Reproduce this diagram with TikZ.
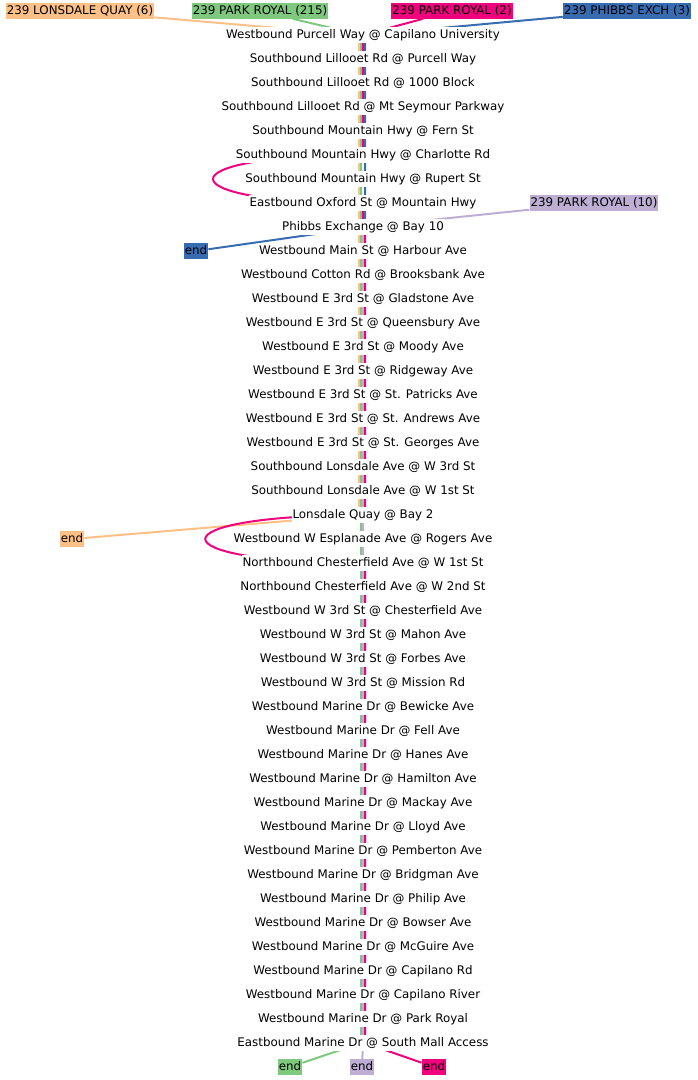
\documentclass[tikz,border=0pt]{standalone}
\usepackage{fontspec}
\setmainfont{DejaVu Sans}
\usetikzlibrary{backgrounds}

\definecolor{routeorange}{HTML}{FDC086}
\definecolor{routegreen}{HTML}{7FC97F}
\definecolor{routelavender}{HTML}{BEAED4}
\definecolor{routepink}{HTML}{F0027F}
\definecolor{routeblue}{HTML}{386CB0}

\begin{document}
\begin{tikzpicture}[x=0.75pt,y=-0.75pt,node distance=18pt,line join=round,
    stop node/.style={fill=white,inner xsep=0.75pt,inner ysep=1.2pt,text height=6.8pt,text depth=2.1pt,font=\fontsize{8.9}{10.7}\selectfont},
    route label/.style={stop node,fill=#1},
    route/.style={draw=#1,line width=1.5pt}]
            \useasboundingbox (0,0) rectangle (698,1080);

            \node[stop node] (1) at (363,35) {Westbound Purcell Way @ Capilano University};
            \node[stop node] (2) [below of=1] {Southbound Lillooet Rd @ Purcell Way};
            \node[stop node] (3) [below of=2] {Southbound Lillooet Rd @ 1000 Block};
            \node[stop node] (4) [below of=3] {Southbound Lillooet Rd @ Mt Seymour Parkway};
            \node[stop node] (5) [below of=4] {Southbound Mountain Hwy @ Fern St};
            \node[stop node] (6) [below of=5] {Southbound Mountain Hwy @ Charlotte Rd};
            \node[stop node] (7) [below of=6] {Southbound Mountain Hwy @ Rupert St};
            \node[stop node] (8) [below of=7] {Eastbound Oxford St @ Mountain Hwy};
            \node[stop node] (9) [below of=8] {Phibbs Exchange @ Bay 10};
            \node[stop node] (10) [below of=9] {Westbound Main St @ Harbour Ave};
            \node[stop node] (11) [below of=10] {Westbound Cotton Rd @ Brooksbank Ave};
            \node[stop node] (12) [below of=11] {Westbound E 3rd St @ Gladstone Ave};
            \node[stop node] (13) [below of=12] {Westbound E 3rd St @ Queensbury Ave};
            \node[stop node] (14) [below of=13] {Westbound E 3rd St @ Moody Ave};
            \node[stop node] (15) [below of=14] {Westbound E 3rd St @ Ridgeway Ave};
            \node[stop node] (16) [below of=15] {Westbound E 3rd St @ St. Patricks Ave};
            \node[stop node] (17) [below of=16] {Westbound E 3rd St @ St. Andrews Ave};
            \node[stop node] (18) [below of=17] {Westbound E 3rd St @ St. Georges Ave};
            \node[stop node] (19) [below of=18] {Southbound Lonsdale Ave @ W 3rd St};
            \node[stop node] (20) [below of=19] {Southbound Lonsdale Ave @ W 1st St};
            \node[stop node] (21) [below of=20] {Lonsdale Quay @ Bay 2};
            \node[stop node] (22) [below of=21] {Westbound W Esplanade Ave @ Rogers Ave};
            \node[stop node] (23) [below of=22] {Northbound Chesterfield Ave @ W 1st St};
            \node[stop node] (24) [below of=23] {Northbound Chesterfield Ave @ W 2nd St};
            \node[stop node] (25) [below of=24] {Westbound W 3rd St @ Chesterfield Ave};
            \node[stop node] (26) [below of=25] {Westbound W 3rd St @ Mahon Ave};
            \node[stop node] (27) [below of=26] {Westbound W 3rd St @ Forbes Ave};
            \node[stop node] (28) [below of=27] {Westbound W 3rd St @ Mission Rd};
            \node[stop node] (29) [below of=28] {Westbound Marine Dr @ Bewicke Ave};
            \node[stop node] (30) [below of=29] {Westbound Marine Dr @ Fell Ave};
            \node[stop node] (31) [below of=30] {Westbound Marine Dr @ Hanes Ave};
            \node[stop node] (32) [below of=31] {Westbound Marine Dr @ Hamilton Ave};
            \node[stop node] (33) [below of=32] {Westbound Marine Dr @ Mackay Ave};
            \node[stop node] (34) [below of=33] {Westbound Marine Dr @ Lloyd Ave};
            \node[stop node] (35) [below of=34] {Westbound Marine Dr @ Pemberton Ave};
            \node[stop node] (36) [below of=35] {Westbound Marine Dr @ Bridgman Ave};
            \node[stop node] (37) [below of=36] {Westbound Marine Dr @ Philip Ave};
            \node[stop node] (38) [below of=37] {Westbound Marine Dr @ Bowser Ave};
            \node[stop node] (39) [below of=38] {Westbound Marine Dr @ McGuire Ave};
            \node[stop node] (40) [below of=39] {Westbound Marine Dr @ Capilano Rd};
            \node[stop node] (41) [below of=40] {Westbound Marine Dr @ Capilano River};
            \node[stop node] (42) [below of=41] {Westbound Marine Dr @ Park Royal};
            \node[stop node] (43) [below of=42] {Eastbound Marine Dr @ South Mall Access};

            \node[route label=routeorange] (lq6) at (80,11) {239 LONSDALE QUAY (6)};
            \node[route label=routegreen] (pr215) at (260,11) {239 PARK ROYAL (215)};
            \node[route label=routepink] (pr2) at (452,11) {239 PARK ROYAL (2)};
            \node[route label=routeblue] (px3) at (627,11) {239 PHIBBS EXCH (3)};
            \node[route label=routelavender] (pr10) at (594,203) {239 PARK ROYAL (10)};

            \node[route label=routeblue] (end3) at (196,251) {end};
            \node[route label=routeorange] (end6) at (72,539) {end};
            \node[route label=routegreen] (end215) at (290,1067) {end};
            \node[route label=routelavender] (end10) at (362,1067) {end};
            \node[route label=routepink] (end2) at (434,1067) {end};

            \begin{pgfonlayer}{background}
                \path[route=routeorange] (lq6) -- ([xshift=-3pt]1.center) -- ([xshift=-3pt]21.center) -- (end6);
                \path[route=routegreen] (pr215) -- ([xshift=-1.5pt]1.center) -- ([xshift=-1.5pt]43.center) -- (end215);
                \path[route=routeblue] (px3) -- ([xshift=1.5pt]1.center) -- ([xshift=1.5pt]9.center) -- (end3);
                \path[route=routelavender] (pr10) -- (9.center) -- (43.center) -- (end10);
                \path[route=routepink] (pr2) -- (1.center) -- (6.center)
                    .. controls +(-200,0) and +(-200,0) .. (8.center) -- (9.center)
                    -- ([xshift=1.5pt]9.center) -- ([xshift=1.5pt]21.center)
                    .. controls +(-213,0) and +(-213,0) .. ([xshift=1.5pt]23.center)
                    -- ([xshift=1.5pt]43.center) -- (end2);
            \end{pgfonlayer}
        \end{tikzpicture}
\end{document}
